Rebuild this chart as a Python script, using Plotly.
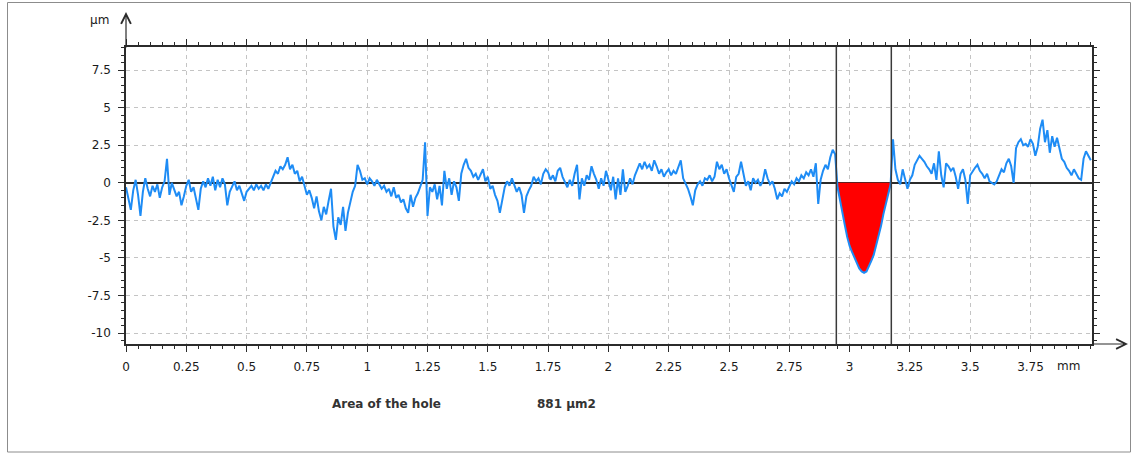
import numpy as np
import plotly.graph_objects as go

# Surface profile, one height sample (µm) every 0.01 mm along the trace
sample_step_mm = 0.01

depth_0_1mm = [
    -0.3, -1.0, -1.8, -0.5, 0.2, -0.8, -2.2, -0.6, 0.3, -0.4,
    -0.9, -0.2, -0.6, -0.1, -1.0, -0.3, 0.1, 1.6, -0.8, 0.0,
    -0.5, -0.9, -0.6, -1.5, -0.9, -0.2, 0.2, -0.6, -0.3, -1.0,
    -1.8, -0.4, 0.1, -0.3, 0.3, -0.2, 0.4, -0.5, 0.2, -0.3,
    0.3, -0.1, -1.5, -0.6, -0.3, 0.1, -0.5, -0.2, -0.7, -1.2,
    -0.6, -0.4, -0.2, -0.5, -0.1, -0.4, -0.2, -0.5, -0.1, -0.4,
    0.0, 0.3, 0.8, 0.6, 1.1, 0.9, 1.2, 1.7, 0.9, 1.2,
    0.6, 0.8, 0.1, 0.4, -0.3, -0.8, -0.5, -1.0, -1.7, -0.9,
    -1.9, -2.5, -1.6, -2.1, -1.2, -0.4, -2.9, -3.8, -2.3, -2.8,
    -1.6, -3.2, -2.0, -1.2, -0.6, -0.2, 1.2, 0.8, 0.2, 0.3,
]

depth_1_2mm = [
    -0.1, 0.3, 0.1, -0.2, 0.2, -0.1, -0.4, -0.2, -0.6, -0.4,
    -0.9, -0.3, -1.0, -0.8, -1.3, -1.1, -1.7, -2.0, -0.8, -1.6,
    -1.0, -0.7, -0.2, 0.2, 2.7, -2.2, -0.3, -0.6, -0.1, -1.1,
    -0.2, -1.5, 0.8, -0.4, 0.3, -0.8, 0.1, -0.3, -1.2, 0.6,
    1.2, 1.6, 1.0, 0.8, 0.4, 0.6, 0.2, 0.6, 0.9, 0.1,
    0.4, -0.4, -0.2, -0.8, -1.2, -2.0, -1.2, -0.3, 0.1, -0.2,
    0.3, -0.1, -0.6, -0.3, -0.8, -2.0, -0.9, -0.5, -0.2, 0.4,
    0.1, 0.3, -0.1, 0.6, 0.9, 0.7, 0.2, 0.5, 0.1, 0.8,
    1.0, 0.4, 0.1, -0.3, 0.2, -0.2, 0.6, 1.2, -1.1, 0.3,
    -0.2, 0.5, 0.2, 1.1, 0.6, 0.2, -0.4, 0.3, -0.2, 0.8,
]

depth_2_3mm = [
    0.2, -0.5, 0.4, -1.1, 0.3, -0.8, 0.9, -0.6, -0.2, 0.3,
    -0.1, 0.5, 0.9, 1.3, 0.9, 1.4, 1.0, 1.2, 0.8, 1.5,
    1.1, 0.6, 0.9, 0.4, 0.7, 0.9, 0.5, 0.8, 0.6, 1.0,
    1.5, 0.3, 0.0, -0.4, -0.9, -1.5, -0.5, -0.1, 0.1, -0.2,
    0.3, 0.2, 0.5, 0.1, 0.4, 1.4, 0.9, 1.2, 0.6, 0.9,
    0.3, -0.1, -0.6, 0.4, 0.6, 1.4, 0.5, -0.2, 0.1, -0.5,
    0.3, 0.0, 0.2, -0.2, 0.1, 0.9, 0.3, -0.1, 0.1, -0.4,
    -1.1, -0.7, -0.9, -0.4, -0.6, -0.2, 0.1, -0.1, 0.3, 0.1,
    0.5, 0.3, 0.7, 0.5, 0.9, 0.4, 1.3, -1.4, 0.2, 0.8,
    1.2, 0.9, 1.7, 2.2, 1.9, -0.3, -1.2, -2.0, -2.8, -3.6,
]

depth_3_4mm = [
    -4.2, -4.6, -5.0, -5.4, -5.7, -5.9, -6.0, -5.9, -5.6, -5.2,
    -4.8, -4.2, -3.6, -2.9, -2.1, -1.4, -0.7, -0.1, 2.9, 0.9,
    0.2, -0.1, 0.9, 0.3, -0.4, 0.2, 0.5, 1.2, 1.5, 1.8,
    1.6, 1.4, 1.1, 0.9, 0.6, 1.3, 0.2, 2.1, 0.5, -0.3,
    1.3, 1.1, 0.8, 1.0, 0.4, -0.4, 0.6, 0.9, 0.2, -1.4,
    0.5, 0.8, 1.0, 1.2, 0.8, 0.6, 0.3, 0.6, 0.1, 0.0,
    -0.1, 0.1, 0.5, 0.9, 0.7, 1.3, 1.6, 1.1, 0.0, 2.3,
    2.7, 2.9, 2.5, 2.6, 2.4, 2.9, 2.6, 1.8, 2.4, 3.6,
    4.2, 2.7, 3.5, 2.0, 3.1, 2.4, 3.0, 2.2, 1.6, 1.4,
    1.0, 0.8, 0.5, 0.9, 0.6, 0.3, 0.2, 1.6, 2.1, 1.8,
    1.5,
]

# Measurement cursors bounding the hole (mm) and the computed area
cursor_left_mm = 2.945
cursor_right_mm = 3.173
hole_label = "Area of the hole"
hole_area_text = "881 µm2"

x_tick_values = [0, 0.25, 0.5, 0.75, 1, 1.25, 1.5, 1.75, 2, 2.25, 2.5, 2.75, 3, 3.25, 3.5, 3.75]
x_tick_labels = ["0", "0.25", "0.5", "0.75", "1", "1.25", "1.5", "1.75", "2", "2.25",
                 "2.5", "2.75", "3", "3.25", "3.5", "3.75"]
y_tick_values = [-10, -7.5, -5, -2.5, 0, 2.5, 5, 7.5]
y_tick_labels = ["-10", "-7.5", "-5", "-2.5", "0", "2.5", "5", "7.5"]

profile = np.array(depth_0_1mm + depth_1_2mm + depth_2_3mm + depth_3_4mm)
position = np.arange(len(profile)) * sample_step_mm

# ---- page geometry (pixels) ----
W, H = 1135, 455
M_L, M_R, M_T, M_B = 126, 43, 47, 111
PLOT_W = W - M_L - M_R
PLOT_H = H - M_T - M_B


def px_x(px):
    return (px - M_L) / PLOT_W


def px_y(py):
    return (H - M_B - py) / PLOT_H


AXIS_COLOR = "#2b2b2b"
TEXT_COLOR = "#1a1a1a"
GRID_COLOR = "#c4c4c4"
FONT = "DejaVu Sans"

fig = go.Figure()

# Red fill between the profile and the zero line inside the cursors
in_hole = (position >= cursor_left_mm) & (position <= cursor_right_mm)
fig.add_trace(go.Scatter(
    x=position[in_hole], y=profile[in_hole],
    mode="lines", fill="tozeroy", fillcolor="#ff0000",
    line=dict(width=0, color="#ff0000"),
    hoverinfo="skip", showlegend=False,
))

# Profile trace
fig.add_trace(go.Scatter(
    x=position, y=profile,
    mode="lines",
    line=dict(color="#1e8cf5", width=2),
    hoverinfo="skip", showlegend=False,
))

# Vertical cursor lines
for cx in (cursor_left_mm, cursor_right_mm):
    fig.add_shape(type="line", xref="x", yref="paper",
                  x0=cx, x1=cx, y0=0, y1=1,
                  line=dict(color="#3a3a3a", width=1.5))

# Outer frame of the report panel
fig.add_shape(type="rect", xref="paper", yref="paper",
              x0=px_x(7.5), x1=px_x(1130.5), y0=px_y(452), y1=px_y(2.5),
              line=dict(color="#8c8c8c", width=1), layer="below")

tick_font = dict(family=FONT, size=12, color=TEXT_COLOR)

fig.update_xaxes(
    range=[0, 4.005],
    tickmode="array", tickvals=x_tick_values, ticktext=x_tick_labels,
    tickfont=tick_font, ticklabelstandoff=5,
    ticks="outside", ticklen=6, tickwidth=1.2, tickcolor=AXIS_COLOR,
    minor=dict(dtick=0.05, ticks="outside", ticklen=3, tickwidth=1,
               tickcolor=AXIS_COLOR, showgrid=False),
    showline=True, linecolor=AXIS_COLOR, linewidth=1.5, mirror="allticks",
    showgrid=True, gridcolor=GRID_COLOR, gridwidth=1, griddash="4px,4px",
    zeroline=False,
)
fig.update_yaxes(
    range=[-10.73, 9.04],
    tickmode="array", tickvals=y_tick_values, ticktext=y_tick_labels,
    tickfont=tick_font, ticklabelstandoff=5,
    ticks="outside", ticklen=6, tickwidth=1.2, tickcolor=AXIS_COLOR,
    minor=dict(dtick=0.5, ticks="outside", ticklen=3, tickwidth=1,
               tickcolor=AXIS_COLOR, showgrid=False),
    showline=True, linecolor=AXIS_COLOR, linewidth=1.5, mirror="allticks",
    showgrid=True, gridcolor=GRID_COLOR, gridwidth=1, griddash="4px,4px",
    zeroline=True, zerolinecolor=AXIS_COLOR, zerolinewidth=1.5,
)

annotations = [
    # axis arrows
    dict(xref="paper", yref="paper", x=0, y=px_y(12), ax=0, ay=37,
         showarrow=True, arrowhead=5, arrowsize=1.6, arrowwidth=1.2,
         arrowcolor=AXIS_COLOR, text=""),
    dict(xref="paper", yref="paper", x=px_x(1128), y=0, ax=-37, ay=0,
         showarrow=True, arrowhead=5, arrowsize=1.6, arrowwidth=1.2,
         arrowcolor=AXIS_COLOR, text=""),
    # unit labels
    dict(xref="paper", yref="paper", x=px_x(111), y=px_y(20), text="µm",
         showarrow=False, xanchor="right", yanchor="middle",
         font=dict(family=FONT, size=12, color=TEXT_COLOR)),
    dict(xref="paper", yref="paper", x=px_x(1055), y=px_y(366), text="mm",
         showarrow=False, xanchor="left", yanchor="middle",
         font=dict(family=FONT, size=12, color=TEXT_COLOR)),
    # result line under the chart
    dict(xref="paper", yref="paper", x=px_x(330), y=px_y(404), text="<b>" + hole_label + "</b>",
         showarrow=False, xanchor="left", yanchor="middle",
         font=dict(family=FONT, size=12, color="#333333")),
    dict(xref="paper", yref="paper", x=px_x(535), y=px_y(404), text="<b>" + hole_area_text + "</b>",
         showarrow=False, xanchor="left", yanchor="middle",
         font=dict(family=FONT, size=12, color="#333333")),
]

fig.update_layout(
    width=W, height=H,
    margin=dict(l=M_L, r=M_R, t=M_T, b=M_B, pad=0),
    paper_bgcolor="white", plot_bgcolor="white",
    showlegend=False,
    annotations=annotations,
)

fig.write_html("out.html", config={"displayModeBar": False})
